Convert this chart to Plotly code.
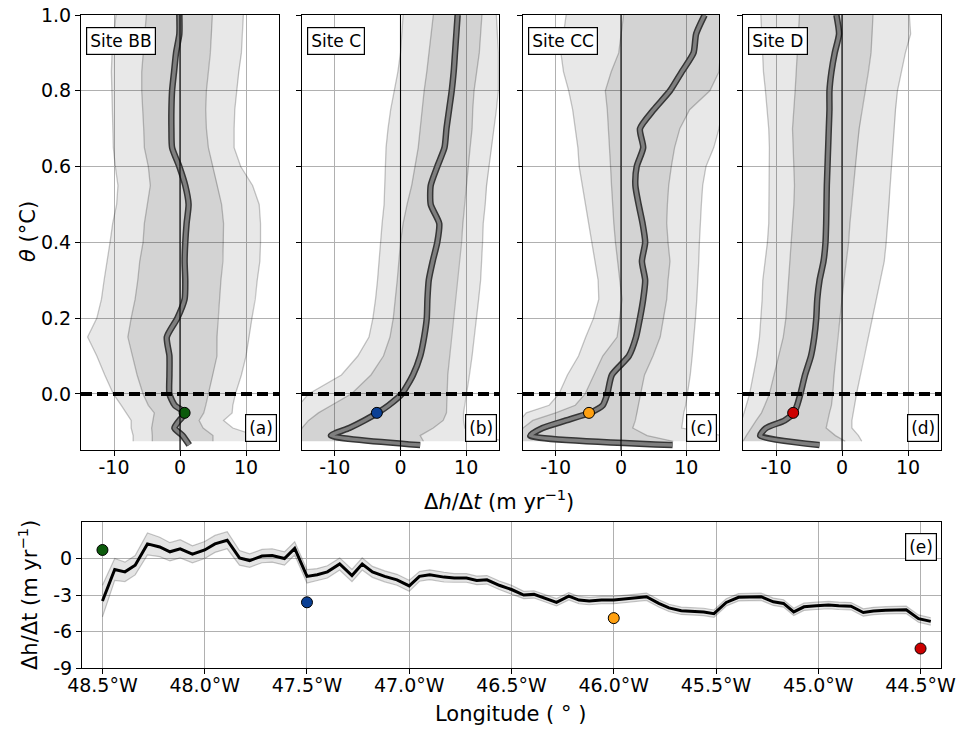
import plotly.graph_objects as go

# ---------------- data ----------------
THETA = [1.00, 0.95, 0.90, 0.85, 0.80, 0.75, 0.70, 0.65, 0.60, 0.55, 0.50, 0.45, 0.40, 0.35,
         0.30, 0.25, 0.20, 0.15, 0.10, 0.05, 0.00, -0.03, -0.05, -0.07, -0.09, -0.11, -0.125]
MEAN_THETA = [1.00, 0.95, 0.90, 0.85, 0.80, 0.75, 0.70, 0.65, 0.60, 0.55, 0.50, 0.45, 0.40, 0.35,
              0.30, 0.25, 0.20, 0.15, 0.10, 0.05, 0.00, -0.03, -0.05, -0.07, -0.09, -0.11, -0.135]

SITES = ["Site BB", "Site C", "Site CC", "Site D"]
LETTERS = ["(a)", "(b)", "(c)", "(d)"]
SITE_COLORS = ["#0b5a0b", "#0a3f94", "#ffa010", "#cc0000"]
SITE_LON = [-48.5, -47.5, -46.0, -44.5]
SITE_DHDT = [0.7, -3.6, -4.9, -7.4]
SITE_THETA = [-0.05, -0.05, -0.05, -0.05]

MEAN_A = [-0.1, -0.1, -0.6, -0.9, -1.2, -1.3, -1.3, -1.2, -0.1, 0.8, 1.3, 1.0, 0.8, 0.7,
          0.8, 0.7, -0.4, -2.0, -1.6, -1.6, -1.6, -0.8, 0.8, -0.1, -0.85, 0.4, 1.4]
P5_A = [-9.7, -10.0, -10.3, -10.4, -10.3, -10.2, -10.1, -10.1, -9.8, -9.4, -9.6, -10.2, -10.6, -11.1,
        -11.5, -11.9, -12.6, -14.0, -12.6, -11.4, -10.1, -8.9, -8.1, -7.4, -7.4, -7.1, -7.1]
P25_A = [-5.1, -5.3, -5.6, -5.8, -5.8, -5.6, -5.5, -5.4, -4.8, -4.5, -4.9, -5.4, -5.6, -6.1,
         -6.4, -6.8, -7.4, -7.9, -7.2, -6.5, -5.6, -4.8, -3.9, -4.1, -4.3, -4.2, -4.2]
P75_A = [4.9, 4.8, 4.6, 4.3, 4.0, 3.9, 4.0, 4.3, 5.0, 5.7, 6.3, 6.6, 6.6, 6.5,
         6.2, 6.0, 5.7, 5.6, 5.6, 5.0, 4.3, 3.9, 3.6, 2.9, 3.5, 5.0, 5.0]
P95_A = [9.6, 9.4, 9.3, 8.9, 8.6, 8.3, 8.2, 8.2, 9.2, 11.0, 12.0, 12.2, 12.2, 12.1,
         11.7, 11.4, 10.9, 10.5, 10.0, 9.3, 8.4, 8.0, 7.9, 6.6, 8.0, 11.5, 10.0]

MEAN_B = [8.7, 8.5, 8.3, 8.1, 7.8, 7.4, 7.0, 6.7, 5.6, 4.6, 4.6, 5.9, 5.6, 4.9,
          4.3, 4.1, 4.0, 3.6, 3.0, 1.9, 0.2, -1.8, -3.5, -5.5, -7.8, -10.6, 3.0]
P5_B = [0.4, 0.2, 0.0, -0.4, -1.0, -1.5, -1.9, -2.2, -2.3, -2.4, -2.5, -2.8, -3.0, -3.3,
        -3.5, -3.8, -4.2, -4.8, -6.5, -9.0, -14.0, -15.5, -15.5, -15.5, -15.5, -15.5, -15.5]
P25_B = [5.0, 4.7, 4.4, 4.0, 3.6, 3.3, 3.0, 2.7, 2.2, 1.7, 1.0, 0.4, 0.0, -0.2,
         -0.5, -0.8, -1.1, -1.6, -2.6, -4.5, -7.5, -10.5, -12.5, -14.0, -15.0, -15.5, -15.5]
P75_B = [12.4, 12.2, 12.0, 11.6, 11.2, 11.0, 10.9, 10.6, 10.3, 10.0, 9.7, 9.5, 9.3, 9.0,
         8.7, 8.3, 8.0, 7.7, 7.4, 7.2, 7.1, 7.0, 7.0, 6.5, 5.0, 3.0, 3.5]
P95_B = [14.6, 14.8, 14.9, 14.9, 14.9, 14.6, 14.2, 13.9, 13.5, 13.1, 12.9, 12.6, 12.5, 12.4,
         12.2, 11.9, 11.6, 11.2, 10.9, 10.5, 10.0, 9.7, 9.6, 9.6, 9.8, 12.0, 16.0]

MEAN_C = [12.8, 11.5, 11.1, 9.3, 7.5, 5.0, 2.9, 3.4, 2.4, 2.2, 2.7, 3.3, 3.7, 3.2,
          3.7, 3.4, 2.9, 2.3, 1.2, -1.4, -2.1, -2.8, -4.8, -8.4, -12.0, -13.9, 7.9]
P5_C = [-8.4, -8.8, -9.2, -8.8, -8.0, -7.4, -7.0, -6.6, -6.4, -5.9, -5.5, -5.0, -4.4, -4.0,
        -3.5, -3.4, -4.2, -5.4, -6.5, -8.2, -9.5, -11.0, -14.5, -15.5, -15.5, -15.5, -15.5]
P25_C = [0.4, 0.0, -0.35, -1.5, -2.4, -2.1, -1.9, -1.7, -1.6, -1.45, -1.3, -1.1, -0.85, -0.5,
         -0.1, 0.15, -0.2, -0.6, -2.8, -4.2, -5.5, -7.0, -10.0, -13.5, -15.0, -15.5, -15.5]
P75_C = [15.5, 15.5, 15.2, 15.0, 13.6, 10.5, 9.0, 8.2, 7.7, 7.3, 7.1, 7.0, 7.2, 7.5,
         7.2, 7.0, 6.5, 6.0, 4.9, 3.6, 3.0, 2.7, 2.5, 2.2, 1.8, 4.0, 8.0]
P95_C = [15.5, 15.5, 15.5, 15.5, 15.5, 15.5, 15.0, 14.2, 13.0, 12.5, 12.3, 12.1, 12.0, 11.9,
         11.8, 11.6, 11.4, 11.2, 10.9, 10.6, 10.2, 9.9, 9.6, 9.4, 9.3, 15.5, 15.5]

MEAN_D = [-0.85, -0.45, -1.1, -1.6, -1.9, -1.9, -2.0, -2.1, -2.2, -2.3, -2.35, -2.4, -2.5, -2.8,
          -3.4, -3.75, -3.9, -4.2, -4.7, -5.6, -6.3, -6.8, -7.3, -8.7, -11.5, -12.4, -3.4]
P5_D = [-12.3, -12.2, -12.1, -11.9, -11.6, -11.3, -11.1, -11.0, -11.0, -11.0, -11.0, -11.1, -11.3, -11.6,
        -12.0, -12.1, -12.3, -12.5, -12.9, -13.4, -14.0, -14.5, -14.9, -15.2, -15.5, -15.5, -15.5]
P25_D = [-6.45, -6.6, -6.7, -6.9, -7.1, -7.3, -7.5, -7.4, -7.3, -7.2, -7.3, -7.5, -7.7, -7.8,
         -8.0, -8.3, -8.5, -8.9, -9.6, -10.3, -11.0, -11.7, -12.2, -13.0, -13.8, -14.5, -15.0]
P75_D = [4.7, 4.6, 4.4, 4.0, 3.5, 3.0, 2.6, 2.3, 2.0, 1.7, 1.4, 1.2, 1.0, 0.6,
         0.3, 0.0, -0.3, -0.7, -1.0, -1.2, -1.4, -1.6, -1.9, -2.2, -2.4, -1.0, 0.5]
P95_D = [10.2, 10.4, 9.6, 9.0, 8.4, 8.1, 7.9, 7.7, 7.5, 7.3, 7.2, 7.0, 6.7, 6.4,
         5.8, 5.2, 4.6, 4.0, 3.3, 2.7, 2.2, 1.9, 1.7, 1.5, 1.5, 2.5, 3.0]

LON = [-48.50, -48.44, -48.39, -48.34, -48.28, -48.22, -48.17, -48.12, -48.06, -48.00,
       -47.95, -47.89, -47.83, -47.78, -47.72, -47.67, -47.61, -47.56, -47.50, -47.45,
       -47.40, -47.34, -47.28, -47.23, -47.18, -47.12, -47.06, -47.00, -46.95, -46.90,
       -46.83, -46.78, -46.72, -46.67, -46.62, -46.56, -46.50, -46.44, -46.39, -46.34,
       -46.28, -46.22, -46.17, -46.12, -46.06, -46.00, -45.95, -45.89, -45.84, -45.78,
       -45.73, -45.67, -45.61, -45.56, -45.51, -45.45, -45.39, -45.34, -45.28, -45.22,
       -45.17, -45.12, -45.07, -45.01, -44.95, -44.90, -44.84, -44.78, -44.73, -44.67,
       -44.62, -44.57, -44.51, -44.45]
DHDT = [-3.5, -0.9, -1.1, -0.55, 1.2, 0.95, 0.55, 0.8, 0.35, 0.7,
        1.2, 1.5, 0.05, -0.17, 0.2, 0.25, 0.0, 0.83, -1.47, -1.33,
        -1.1, -0.45, -1.4, -0.45, -1.1, -1.47, -1.75, -2.25, -1.47, -1.33,
        -1.53, -1.6, -1.6, -1.8, -1.75, -2.2, -2.55, -3.0, -2.95, -3.25,
        -3.6, -3.1, -3.42, -3.5, -3.42, -3.42, -3.33, -3.22, -3.14, -3.69,
        -4.06, -4.3, -4.33, -4.39, -4.53, -3.61, -3.19, -3.19, -3.14, -3.56,
        -3.69, -4.39, -3.97, -3.89, -3.83, -3.89, -3.92, -4.44, -4.31, -4.25,
        -4.25, -4.22, -4.94, -5.17]
DHDT_ERR = [1.3, 0.9, 0.8, 0.8, 0.9, 0.8, 0.75, 0.75, 0.7, 0.7,
            0.7, 0.7, 0.6, 0.55, 0.55, 0.55, 0.55, 0.55, 0.55, 0.5,
            0.5, 0.5, 0.5, 0.5, 0.45, 0.45, 0.45, 0.45, 0.4, 0.4,
            0.4, 0.35, 0.35, 0.35, 0.35, 0.35, 0.35, 0.3, 0.3, 0.3,
            0.3, 0.3, 0.3, 0.3, 0.3, 0.3, 0.3, 0.3, 0.3, 0.3,
            0.3, 0.3, 0.3, 0.3, 0.3, 0.3, 0.3, 0.3, 0.3, 0.3,
            0.3, 0.3, 0.3, 0.3, 0.3, 0.3, 0.3, 0.3, 0.3, 0.3,
            0.3, 0.3, 0.3, 0.3]

TOP_XTICKS = [-10, 0, 10]
TOP_XLABELS = ["-10", "0", "10"]
TOP_YTICKS = [0.0, 0.2, 0.4, 0.6, 0.8, 1.0]
LON_TICKS = [-48.5, -48.0, -47.5, -47.0, -46.5, -46.0, -45.5, -45.0, -44.5]
LON_LABELS = ["48.5°W", "48.0°W", "47.5°W", "47.0°W", "46.5°W", "46.0°W", "45.5°W", "45.0°W", "44.5°W"]
BOT_YTICKS = [0, -3, -6, -9]
BOT_YLABELS = ["0", "-3", "-6", "-9"]

PANELS = [
    (MEAN_A, P5_A, P25_A, P75_A, P95_A),
    (MEAN_B, P5_B, P25_B, P75_B, P95_B),
    (MEAN_C, P5_C, P25_C, P75_C, P95_C),
    (MEAN_D, P5_D, P25_D, P75_D, P95_D),
]

# ---------------- layout geometry ----------------
W, H = 956, 729
FONT = "DejaVu Sans"
TICK = 19
TITLE = 21

def fx(px):
    return px / W

def fy(py):
    return 1 - py / H

TOP_X = [(81, 279), (302, 499), (523, 719), (743, 941)]
TOP_Y = (15, 450)
BOT_X = (82, 941)
BOT_Y = (522, 668)

fig = go.Figure()
layout = dict(
    width=W, height=H, margin=dict(l=0, r=0, t=0, b=0, autoexpand=False),
    template="none",
    paper_bgcolor="white", plot_bgcolor="white", showlegend=False,
    font=dict(family=FONT, size=TICK, color="black"),
)

axis_common = dict(showline=True, mirror=True, linecolor="black", linewidth=1.1,
                   ticks="outside", ticklen=5, tickwidth=1.1, tickcolor="black",
                   showgrid=True, gridcolor="#b0b0b0", gridwidth=1, zeroline=False,
                   automargin=False, ticklabeloverflow="allow",
                   tickfont=dict(family=FONT, size=TICK, color="black"))

shapes = []
annotations = []
EDGE = "rgba(0,0,0,0.22)"
FILL = "rgba(0,0,0,0.09)"

for i, (mean, p5, p25, p75, p95) in enumerate(PANELS):
    n = i + 1
    xa = "x" if n == 1 else f"x{n}"
    ya = "y" if n == 1 else f"y{n}"
    xk = "xaxis" if n == 1 else f"xaxis{n}"
    yk = "yaxis" if n == 1 else f"yaxis{n}"
    layout[xk] = dict(axis_common, domain=[fx(TOP_X[i][0]), fx(TOP_X[i][1])], anchor=ya,
                      range=[-15, 15], tickvals=TOP_XTICKS, ticktext=TOP_XLABELS,
                      ticklabelstandoff=-5)
    layout[yk] = dict(axis_common, domain=[fy(TOP_Y[1]), fy(TOP_Y[0])], anchor=xa,
                      range=[-0.148, 1.0], tickvals=TOP_YTICKS, tickformat=".1f",
                      showticklabels=(n == 1))

    # bands
    for lo, hi in ((p5, p95), (p25, p75)):
        fig.add_trace(go.Scatter(x=list(lo) + list(hi)[::-1], y=THETA + THETA[::-1],
                                 fill="toself", fillcolor=FILL, line=dict(width=0),
                                 mode="lines", hoverinfo="skip", xaxis=xa, yaxis=ya))
    for edge in (p5, p25, p75, p95):
        fig.add_trace(go.Scatter(x=edge, y=THETA, mode="lines",
                                 line=dict(color=EDGE, width=1.3),
                                 hoverinfo="skip", xaxis=xa, yaxis=ya))
    # mean line with dark outline
    fig.add_trace(go.Scatter(x=mean, y=MEAN_THETA, mode="lines",
                             line=dict(color="#363636", width=6.5, shape="spline", smoothing=0.6),
                             xaxis=xa, yaxis=ya))
    fig.add_trace(go.Scatter(x=mean, y=MEAN_THETA, mode="lines",
                             line=dict(color="#7f7f7f", width=3.5, shape="spline", smoothing=0.6),
                             xaxis=xa, yaxis=ya))
    # site dot
    fig.add_trace(go.Scatter(x=[SITE_DHDT[i]], y=[SITE_THETA[i]], mode="markers",
                             marker=dict(color=SITE_COLORS[i], size=11,
                                         line=dict(color="black", width=1)),
                             xaxis=xa, yaxis=ya))
    # zero vertical line
    shapes.append(dict(type="line", xref=xa, yref=f"{ya} domain", x0=0, x1=0, y0=0, y1=1,
                       line=dict(color="black", width=1.1), layer="above"))
    # dashed theta = 0 line
    shapes.append(dict(type="line", xref=f"{xa} domain", yref=ya, x0=0, x1=1, y0=0, y1=0,
                       line=dict(color="black", width=4, dash="11px,5px"), layer="above"))
    annotations.append(dict(text=SITES[i], xref=f"{xa} domain", yref=f"{ya} domain",
                            x=0.025, y=0.972, xanchor="left", yanchor="top", showarrow=False,
                            font=dict(family=FONT, size=17, color="black"),
                            bgcolor="white", bordercolor="black", borderwidth=1.2, borderpad=3))
    annotations.append(dict(text=LETTERS[i], xref=f"{xa} domain", yref=f"{ya} domain",
                            x=0.99, y=0.018, xanchor="right", yanchor="bottom", showarrow=False,
                            font=dict(family=FONT, size=17, color="black"),
                            bgcolor="white", bordercolor="black", borderwidth=1.2, borderpad=3))

# bottom panel
layout["xaxis5"] = dict(axis_common, domain=[fx(BOT_X[0]), fx(BOT_X[1])], anchor="y5",
                        range=[-48.6, -44.4], tickvals=LON_TICKS, ticktext=LON_LABELS,
                        ticklabelstandoff=-5)
layout["yaxis5"] = dict(axis_common, domain=[fy(BOT_Y[1]), fy(BOT_Y[0])], anchor="x5",
                        range=[-9, 3], tickvals=BOT_YTICKS, ticktext=BOT_YLABELS)

lo = [v - e for v, e in zip(DHDT, DHDT_ERR)]
hi = [v + e for v, e in zip(DHDT, DHDT_ERR)]
fig.add_trace(go.Scatter(x=LON + LON[::-1], y=lo + hi[::-1], fill="toself",
                         fillcolor="rgba(0,0,0,0.10)", line=dict(width=0), mode="lines",
                         hoverinfo="skip", xaxis="x5", yaxis="y5"))
for edge in (lo, hi):
    fig.add_trace(go.Scatter(x=LON, y=edge, mode="lines", line=dict(color=EDGE, width=1.2),
                             hoverinfo="skip", xaxis="x5", yaxis="y5"))
fig.add_trace(go.Scatter(x=LON, y=DHDT, mode="lines", line=dict(color="black", width=3),
                         xaxis="x5", yaxis="y5"))
fig.add_trace(go.Scatter(x=SITE_LON, y=SITE_DHDT, mode="markers",
                         marker=dict(color=SITE_COLORS, size=11, line=dict(color="black", width=1)),
                         xaxis="x5", yaxis="y5"))
annotations.append(dict(text="(e)", xref="x5 domain", yref="y5 domain", x=0.995, y=0.925,
                        xanchor="right", yanchor="top", showarrow=False,
                        font=dict(family=FONT, size=17, color="black"),
                        bgcolor="white", bordercolor="black", borderwidth=1.2, borderpad=3))

# axis titles
annotations += [
    dict(text="<i>θ</i> (°C)", xref="paper", yref="paper", x=fx(28), y=fy(232),
         xanchor="center", yanchor="middle",
         textangle=-90, showarrow=False, font=dict(family=FONT, size=TITLE)),
    dict(text="Δ<i>h</i>/Δ<i>t</i> (m yr<sup>−1</sup>)", xref="paper", yref="paper",
         x=fx(499), y=fy(500), xanchor="center", yanchor="middle",
         showarrow=False, font=dict(family=FONT, size=TITLE)),
    dict(text="Δh/Δt (m yr<sup>−1</sup>)", xref="paper", yref="paper", x=fx(28), y=fy(595),
         xanchor="center", yanchor="middle",
         textangle=-90, showarrow=False, font=dict(family=FONT, size=TITLE)),
    dict(text="Longitude ( ° )", xref="paper", yref="paper", x=fx(510), y=fy(714),
         xanchor="center", yanchor="middle",
         showarrow=False, font=dict(family=FONT, size=TITLE)),
]

layout["shapes"] = shapes
layout["annotations"] = annotations
fig.update_layout(**layout)
fig.write_html("out.html", post_script="document.body.style.margin='0px';",
               config={"displayModeBar": False})
